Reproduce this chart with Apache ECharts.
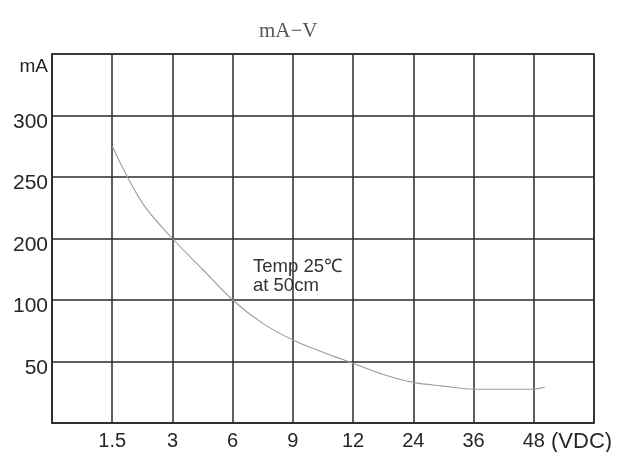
<!DOCTYPE html>
<html>
<head>
<meta charset="utf-8">
<script src="https://cdn.jsdelivr.net/npm/echarts@6/dist/echarts.min.js"></script>
<style>html,body{margin:0;padding:0;background:#fff}#c{width:630px;height:452px}</style>
</head>
<body>
<div id="c"></div>
<script>
// Tick positions (grid columns / rows) and their labels
const xTickValues = [0, 1.5, 3, 6, 9, 12, 24, 36, 48, 60];
const xTickLabels = ['', '1.5', '3', '6', '9', '12', '24', '36', '48', ''];
const yTickValues = [0, 50, 100, 200, 250, 300, 350];
const yTickLabels = ['', '50', '100', '200', '250', '300', 'mA'];

// Curve: voltage (VDC) and current (mA)
const voltage = [1.5, 2.25, 3, 4.5, 6, 7.5, 9, 10.5, 12, 18, 24, 30, 36, 42, 48, 50.2];
const current = [275, 229, 200, 150, 100, 81, 67.5, 57.5, 48.5, 39.5, 33, 30, 27.5, 27.5, 27.5, 29];

const titleText = 'mA\u2212V';
const noteText = 'Temp 25\u2103\nat 50cm';
const xUnit = '(VDC)';

// piecewise-linear mapping of a value onto the evenly spaced grid
function toIndex(v, ticks) {
  for (let i = 0; i < ticks.length - 1; i++) {
    if (v <= ticks[i + 1]) return i + (v - ticks[i]) / (ticks[i + 1] - ticks[i]);
  }
  return ticks.length - 1;
}
const points = voltage.map((v, i) => [toIndex(v, xTickValues), toIndex(current[i], yTickValues)]);

const chart = echarts.init(document.getElementById('c'));
const gridColor = '#2b2b2b';
const txt = '#262626';
chart.setOption({
  animation: false,
  backgroundColor: '#ffffff',
  title: {
    text: titleText,
    left: 254, top: 16,
    textStyle: { fontFamily: 'Liberation Serif', fontSize: 21, fontWeight: 'normal', color: '#555' }
  },
  grid: { left: 52, top: 54, right: 36, bottom: 29, show: true, borderColor: gridColor, borderWidth: 1.5,
          containLabel: false, outerBoundsMode: 'none' },
  xAxis: {
    type: 'value', min: 0, max: xTickValues.length - 1, interval: 1,
    name: xUnit, nameLocation: 'end', nameGap: -43,
    nameTextStyle: { fontFamily: 'Liberation Sans', fontSize: 22, color: txt, verticalAlign: 'top', padding: [8, 0, 0, 0] },
    axisLine: { lineStyle: { color: gridColor, width: 1.5 } },
    axisTick: { show: false },
    splitLine: { show: true, lineStyle: { color: gridColor, width: 1.5 } },
    axisLabel: {
      margin: 8, fontFamily: 'Liberation Sans', fontSize: 20, color: txt,
      formatter: v => xTickLabels[Math.round(v)] || ''
    }
  },
  yAxis: {
    type: 'value', min: 0, max: yTickValues.length - 1, interval: 1,
    axisLine: { lineStyle: { color: gridColor, width: 1.5 } },
    axisTick: { show: false },
    splitLine: { show: true, lineStyle: { color: gridColor, width: 1.5 } },
    axisLabel: {
      margin: 4, fontFamily: 'Liberation Sans', fontSize: 20, color: txt,
      formatter: v => {
        const i = Math.round(v);
        const t = yTickLabels[i] || '';
        if (!t) return '';
        return i === yTickValues.length - 1 ? '{m|' + t + '}' : '{n|' + t + '}';
      },
      rich: {
        n: { fontFamily: 'Liberation Sans', fontSize: 21, color: txt, padding: [13, 0, 0, 0] },
        m: { fontFamily: 'Liberation Sans', fontSize: 19, color: txt, padding: [26, 0, 0, 0] }
      }
    }
  },
  graphic: [{
    type: 'text', left: 253, top: 257,
    style: { text: noteText, font: '18.5px "Liberation Sans"', lineHeight: 19, fill: '#333' }
  }],
  series: [{
    type: 'line', data: points, smooth: 0.35, symbol: 'none',
    lineStyle: { color: '#9c9c9c', width: 1.1 }
  }]
});
</script>
</body>
</html>
